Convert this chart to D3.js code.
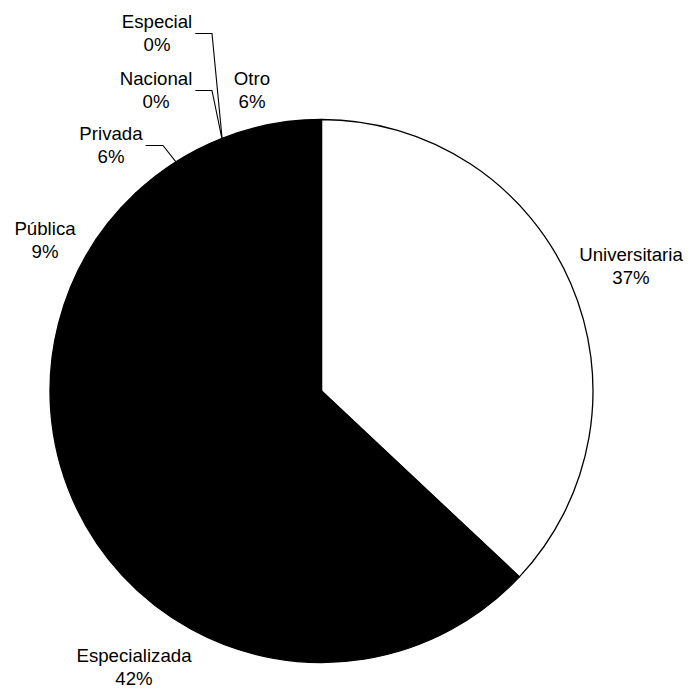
<!DOCTYPE html>
<html>
<head>
<meta charset="utf-8">
<script src="https://cdn.jsdelivr.net/npm/d3@7"></script>
<style>
  html, body { margin: 0; padding: 0; background: #fff; }
  svg { display: block; }
  text { font-family: "Liberation Sans", Arial, sans-serif; font-size: 18.67px; fill: #000; }
</style>
</head>
<body>
<script>
// ---- data ----
const categories = ["Universitaria", "Especializada", "Pública", "Privada", "Nacional", "Especial", "Otro"];
const values = [37, 42, 9, 6, 0, 0, 6];
const percentLabels = ["37%", "42%", "9%", "6%", "0%", "0%", "6%"];
const sliceFills = ["#ffffff", "#000000", "#000000", "#000000", "#000000", "#000000", "#000000"];

// ---- layout (label placement, not data) ----
const labelPos = [
  { x: 631, y: 261 },
  { x: 134, y: 662 },
  { x: 45,  y: 235 },
  { x: 111, y: 140, elbow: 163 },
  { x: 156, y: 85,  elbow: 212 },
  { x: 157, y: 28,  elbow: 212 },
  { x: 252, y: 85 }
];

const W = 691, H = 690;
const cx = 321.5, cy = 391, R = 271.5;
const lineGap = 23.3;

const svg = d3.select("body").append("svg").attr("width", W).attr("height", H);
svg.append("rect").attr("width", W).attr("height", H).attr("fill", "#fff");

const pie = d3.pie().sort(null).value(d => d.value).startAngle(0).endAngle(2 * Math.PI);
const data = categories.map((c, i) => ({ name: c, value: values[i], pct: percentLabels[i], fill: sliceFills[i], i }));
const arcs = pie(data);
const arc = d3.arc().innerRadius(0).outerRadius(R);

const g = svg.append("g").attr("transform", `translate(${cx},${cy})`);
g.selectAll("path.slice").data(arcs).join("path")
  .attr("class", "slice")
  .attr("d", arc)
  .attr("fill", d => d.data.fill)
  .attr("stroke", "#000")
  .attr("stroke-width", 1.3)
  .attr("stroke-linejoin", "round");

// labels
const lg = svg.append("g");
arcs.forEach((a, i) => {
  const p = labelPos[i];
  const t = lg.append("text").attr("text-anchor", "middle").attr("x", p.x).attr("y", p.y);
  t.append("tspan").attr("x", p.x).attr("y", p.y).text(a.data.name);
  t.append("tspan").attr("x", p.x).attr("y", p.y + lineGap).text(a.data.pct);
  if (p.elbow !== undefined) {
    const w = t.select("tspan").node().getComputedTextLength();
    const mid = (a.startAngle + a.endAngle) / 2;
    const ex = cx + Math.sin(mid) * (R - 2);
    const ey = cy - Math.cos(mid) * (R - 2);
    const ly = p.y + 5.5;
    const sx = p.x + w / 2 + 3;
    svg.append("polyline")
      .attr("points", `${sx},${ly} ${p.elbow},${ly} ${ex},${ey}`)
      .attr("fill", "none")
      .attr("stroke", "#000")
      .attr("stroke-width", 1.1);
  }
});
</script>
</body>
</html>
